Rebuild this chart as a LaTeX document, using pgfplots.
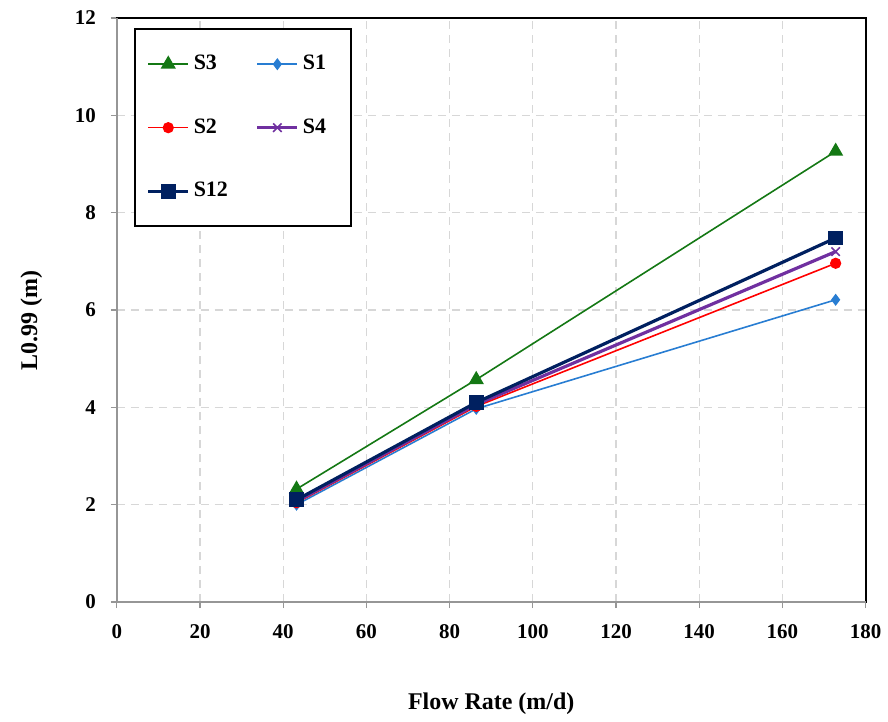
\documentclass[border=0pt]{standalone}
\usepackage{fontspec}
\setmainfont{Liberation Serif}
\usepackage{pgfplots}
\pgfplotsset{compat=1.18}
\usetikzlibrary{calc}
\definecolor{cS3}{RGB}{20,120,20}
\definecolor{cS1}{RGB}{40,125,210}
\definecolor{cS2}{RGB}{255,0,0}
\definecolor{cS4}{RGB}{112,48,160}
\definecolor{cS12}{RGB}{0,32,96}
\definecolor{axgray}{RGB}{150,150,150}
\definecolor{gridgray}{RGB}{215,215,215}
\begin{document}
\begin{tikzpicture}
\begin{axis}[
  name=ax,
  scale only axis,
  width=375pt, height=292.5pt,
  xmin=0, xmax=180, ymin=0, ymax=12,
  xtick={0,20,...,180}, ytick={0,2,...,12},
  grid=major,
  major grid style={gridgray, dash pattern=on 4pt off 3pt, line width=0.6pt},
  axis line style={black, line width=0.9pt},
  tick align=outside,
  tick pos=left,
  major tick length=3pt,
  tick style={axgray, line width=0.6pt},
  /pgf/number format/assume math mode=true,
  ticklabel style={font=\fontsize{10.5}{12}\selectfont\bfseries},
  xticklabel style={yshift=-4.5pt},
  yticklabel style={xshift=-4pt},
  xlabel={Flow Rate (m/d)},
  ylabel={L0.99 (m)},
  label style={font=\fontsize{12}{14}\selectfont\bfseries},
  xlabel style={at={(0.5,0)}, yshift=-42pt},
  ylabel style={at={(ticklabel cs:0.482)}, yshift=9.5pt},
  legend columns=2,
  legend cell align=left,
  legend style={at={(rel axis cs:0.0227,0.982)}, anchor=north west,
    draw=black, line width=1pt, inner xsep=6pt, inner ysep=11pt,
    font=\fontsize{11}{12}\selectfont\bfseries,
    row sep=19pt,
    /tikz/every even column/.append style={column sep=12pt}},
  legend image code/.code={\draw[mark repeat=2,mark phase=2,#1] plot coordinates {(0cm,0cm) (0.35cm,0cm) (0.7cm,0cm)};},
]
\addplot[cS3, line width=0.8pt, mark=triangle*, mark size=3.6pt, mark options={solid}] coordinates {(43.2,2.32) (86.4,4.57) (172.8,9.26)};
\addlegendentry{S3}
\addplot[cS1, line width=0.8pt, mark=diamond*, mark size=2.4pt] coordinates {(43.2,2.00) (86.4,3.97) (172.8,6.21)};
\addlegendentry{S1\rule{4.5pt}{0pt}}
\addplot[cS2, line width=0.8pt, mark=*, mark size=2.4pt] coordinates {(43.2,2.04) (86.4,4.02) (172.8,6.96)};
\addlegendentry{S2}
\addplot[cS4, line width=1.6pt, mark=x, mark size=3pt, mark options={line width=0.8pt}] coordinates {(43.2,2.07) (86.4,4.06) (172.8,7.20)};
\addlegendentry{S4\rule{4.5pt}{0pt}}
\addplot[cS12, line width=1.6pt, mark=square*, mark size=2.9pt] coordinates {(43.2,2.10) (86.4,4.10) (172.8,7.48)};
\addlegendentry{S12}
\end{axis}
\draw[axgray, line width=1pt] (ax.north west) -- (ax.south west) -- (ax.south east);
\path[use as bounding box] ($(ax.south west)+(-58.5pt,-58pt)$) rectangle ($(ax.north east)+(10.5pt,9pt)$);
\end{tikzpicture}
\end{document}
